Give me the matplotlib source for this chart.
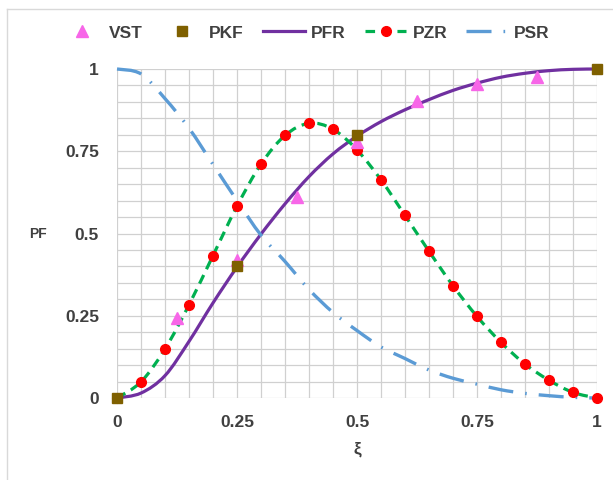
import numpy as np
import matplotlib.pyplot as plt
from matplotlib.lines import Line2D
from matplotlib.path import Path
from matplotlib.patches import PathPatch

plt.rcParams['font.family'] = ['Liberation Sans', 'DejaVu Sans']

# data
xi = [0.0, 0.05, 0.1, 0.15, 0.2, 0.25, 0.3, 0.35, 0.4, 0.45, 0.5,
      0.55, 0.6, 0.65, 0.7, 0.75, 0.8, 0.85, 0.9, 0.95, 1.0]

vst_x = [0.125, 0.25, 0.375, 0.5, 0.625, 0.75, 0.875]
vst_y = [0.243, 0.42, 0.612, 0.779, 0.904, 0.953, 0.977]

pkf_x = [0.0, 0.25, 0.5, 1.0]
pkf_y = [0.0, 0.40, 0.80, 1.0]

pfr_y = [0.0, 0.015, 0.068, 0.172, 0.289, 0.398, 0.498, 0.59, 0.673, 0.742, 0.796,
         0.84, 0.876, 0.907, 0.935, 0.957, 0.975, 0.987, 0.995, 0.999, 1.0]

pzr_y = [0.0, 0.049, 0.149, 0.283, 0.433, 0.583, 0.711, 0.798, 0.835, 0.817, 0.754,
         0.663, 0.555, 0.446, 0.341, 0.248, 0.169, 0.103, 0.054, 0.017, 0.0]

psr_y = [1.0, 0.985, 0.91, 0.82, 0.71, 0.60, 0.495, 0.415, 0.33, 0.26, 0.205,
         0.155, 0.12, 0.085, 0.06, 0.042, 0.025, 0.014, 0.007, 0.002, 0.0]

ticks = [0, 0.25, 0.5, 0.75, 1]
tick_labels = ['0', '0.25', '0.5', '0.75', '1']


def smooth_path(x, y):
    # Excel-style smoothed line: bezier segments through the data points
    p = np.column_stack([x, y])
    n = len(p)
    verts = [p[0]]
    codes = [Path.MOVETO]
    for i in range(n - 1):
        p0 = p[max(i - 1, 0)]
        p3 = p[min(i + 2, n - 1)]
        c1 = p[i] + (p[i + 1] - p0) / 6
        c2 = p[i + 1] - (p3 - p[i]) / 6
        verts += [c1, c2, p[i + 1]]
        codes += [Path.CURVE4] * 3
    return Path(verts, codes)


# figure
#------------------------------------------------------------
fig = plt.figure(figsize=(6.13, 4.8), dpi=100)
ax = fig.add_axes([117/613, 1-398/480, 480/613, 329/480])

# light frame round the chart area
fig.add_artist(Line2D([7/613, 1], [1-9/480, 1-9/480], color='#D9D9D9', lw=1))
fig.add_artist(Line2D([7/613, 7/613], [0, 1-9/480], color='#D9D9D9', lw=1))

pfr_style = dict(color='#7030A0', lw=2.3)
pzr_style = dict(color='#00B050', lw=2.3, ls=(0, (3, 2)))
psr_style = dict(color='#5B9BD5', lw=2.4, ls=(0, (7.5, 3.6, 0.5, 3.6)))

ax.add_patch(PathPatch(smooth_path(xi, pfr_y), fill=False, zorder=3, clip_on=False,
                       ec=pfr_style['color'], lw=pfr_style['lw']))
ax.add_patch(PathPatch(smooth_path(xi, pzr_y), fill=False, zorder=4, clip_on=False,
                       ec=pzr_style['color'], lw=pzr_style['lw'], ls=pzr_style['ls']))
ax.add_patch(PathPatch(smooth_path(xi, psr_y), fill=False, zorder=3, clip_on=False,
                       ec=psr_style['color'], lw=psr_style['lw'], ls=psr_style['ls']))
ax.plot(xi, pzr_y, ls='none', marker='o', ms=7, color='#FF0000', zorder=4.5,
        clip_on=False)
ax.plot(vst_x, vst_y, ls='none', marker='^', ms=8, color='#F766E8',
        zorder=5, clip_on=False)
ax.plot(pkf_x, pkf_y, ls='none', marker='s', ms=6.5, color='#7F6000',
        zorder=6, clip_on=False)

ax.set_xlim(0, 1)
ax.set_ylim(0, 1)
ax.set_xticks(ticks)
ax.set_yticks(ticks)
ax.set_xticklabels(tick_labels)
ax.set_yticklabels(tick_labels)
ax.set_xticks(np.arange(0, 1.001, 0.05), minor=True)
ax.set_yticks(np.arange(0, 1.001, 0.05), minor=True)
ax.grid(which='both', color='#D0D0D0', lw=0.9)
ax.set_axisbelow(True)
ax.tick_params(which='both', length=0)
ax.tick_params(axis='x', pad=12, labelsize=12.5, labelcolor='#404040')
ax.tick_params(axis='y', pad=13, labelsize=12.5, labelcolor='#404040')
for lab in ax.get_xticklabels() + ax.get_yticklabels():
    lab.set_fontweight('bold')
for s in ax.spines.values():
    s.set_visible(False)

ax.set_xlabel('ξ', fontsize=12.5, fontweight='bold', color='#404040', va='center')
ax.xaxis.set_label_coords(0.5, (398-449)/329)
ax.set_ylabel('PF', fontsize=10, fontweight='bold', color='#404040', rotation=0,
              va='center', ha='center')
ax.yaxis.set_label_coords((38-117)/480, 0.5)

# legend
handles = [
    Line2D([], [], ls='none', marker='^', ms=8, color='#F766E8'),
    Line2D([], [], ls='none', marker='s', ms=6.5, color='#7F6000'),
    Line2D([], [], **pfr_style),
    Line2D([], [], marker='o', ms=7, mfc='#FF0000', mec='#FF0000', **pzr_style),
    Line2D([], [], **psr_style),
]
labels = ['VST', 'PKF', 'PFR', 'PZR', 'PSR']
leg = fig.legend(handles, labels, loc='center',
                 bbox_to_anchor=(0.498, 1-33/480), ncol=5, frameon=False,
                 handlelength=2.4, handletextpad=0.35, columnspacing=1.1,
                 numpoints=1, prop={'weight': 'bold', 'size': 12.5})
for t in leg.get_texts():
    t.set_color('#404040')

fig.savefig('out.png', dpi=100)
